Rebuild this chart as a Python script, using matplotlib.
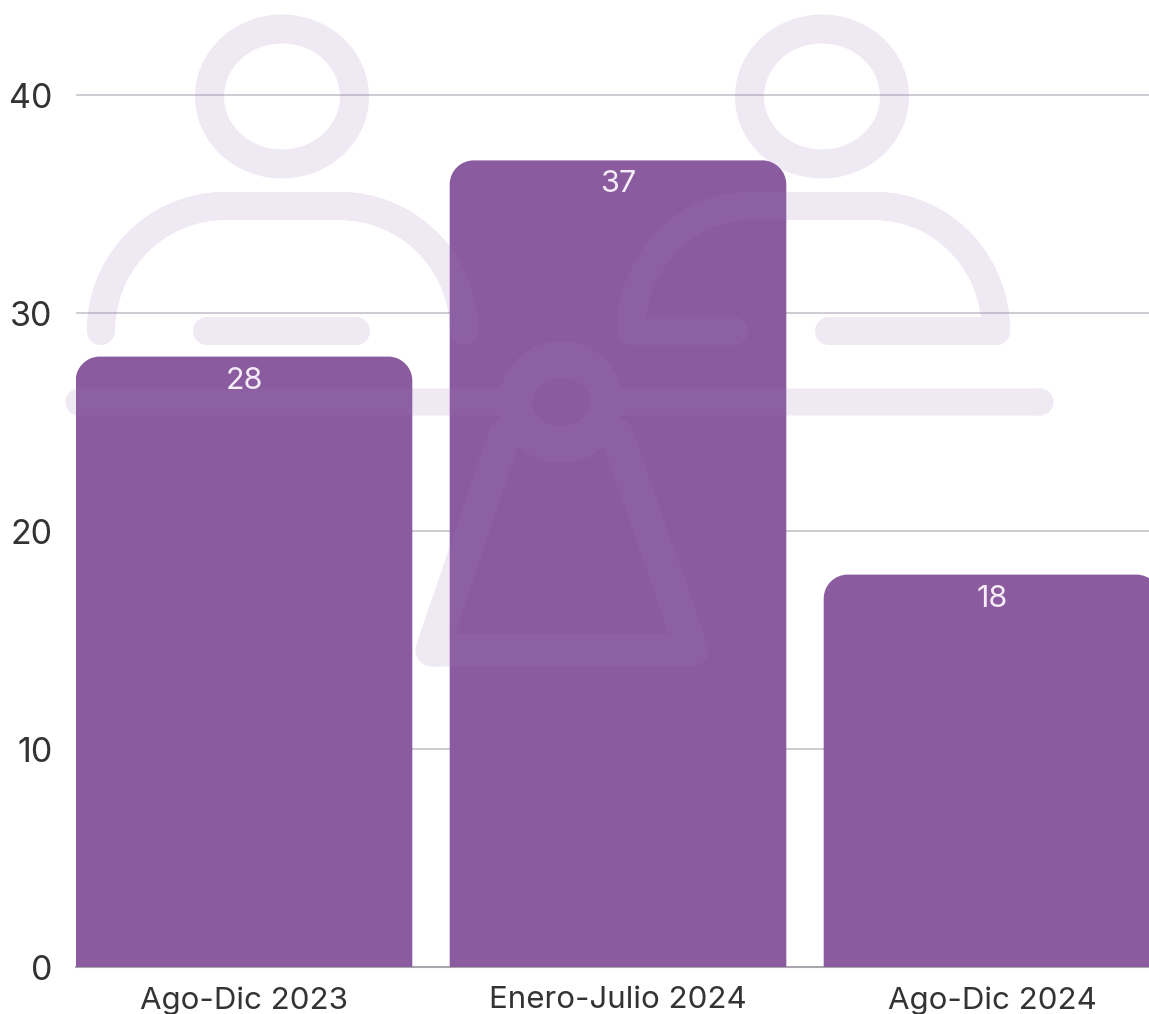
import numpy as np
import matplotlib
matplotlib.use("Agg")
import matplotlib.pyplot as plt
from matplotlib.path import Path
from matplotlib.patches import PathPatch
from matplotlib.transforms import Affine2D

categories = ["Ago-Dic 2023", "Enero-Julio 2024", "Ago-Dic 2024"]
values = [28, 37, 18]
y_ticks = [0, 10, 20, 30, 40]

W, H, DPI = 1149, 1014, 100
BAR = "#8A5B9E"
FONT = ["Inter", "DejaVu Sans"]
plt.rcParams["font.family"] = FONT

fig = plt.figure(figsize=(W / DPI, H / DPI), dpi=DPI, facecolor="white")
ax = fig.add_axes([76 / W, (H - 967) / H, (W - 76) / W, 967 / H])
px_y = 21.8
px_x = 374.0
ax.set_xlim(-168 / px_x, (W - 244) / px_x)
ax.set_ylim(0, 967 / px_y)

ax.set_yticks(y_ticks)
ax.set_xticks(range(len(categories)), categories)
ax.tick_params(length=0, colors="#333333")
ax.tick_params(axis="x", pad=14, labelsize=22.5)
ax.tick_params(axis="y", pad=17, labelsize=24.5)
for s in ax.spines.values():
    s.set_visible(False)
ax.spines["bottom"].set_visible(True)
ax.spines["bottom"].set_color("#A9A6AD")
ax.spines["bottom"].set_linewidth(1.5)
ax.spines["bottom"].set_zorder(1)
ax.grid(axis="y", color="#C6C2CC", lw=1.2)
ax.set_axisbelow(True)


def rounded_bar(x, v, width=0.9, r_px=24):
    rx, ry = r_px / px_x, r_px / px_y
    k = 0.5523
    l, t = x - width / 2, x + width / 2
    verts = [(l, -0.05), (l, v - ry),
             (l, v - ry + k * ry), (l + rx - k * rx, v), (l + rx, v),
             (t - rx, v),
             (t - rx + k * rx, v), (t, v - ry + k * ry), (t, v - ry),
             (t, -0.05), (l, -0.05)]
    codes = [Path.MOVETO, Path.LINETO,
             Path.CURVE4, Path.CURVE4, Path.CURVE4,
             Path.LINETO,
             Path.CURVE4, Path.CURVE4, Path.CURVE4,
             Path.LINETO, Path.CLOSEPOLY]
    return Path(verts, codes)


for i, v in enumerate(values):
    ax.add_patch(PathPatch(rounded_bar(i, v), fc=BAR, ec="none", zorder=2))
    ax.annotate(str(v), (i, v), xytext=(0, -24 * 72 / DPI), textcoords="offset points",
                ha="center", va="center", color="#F6EDF8", fontsize=22, zorder=4)


# --- decorative watermark, in reference pixel coordinates ---
def ellipse(cx, cy, rx, ry, reverse=False, n=72):
    a = np.linspace(0, 2 * np.pi, n)
    if reverse:
        a = a[::-1]
    return np.c_[cx + rx * np.cos(a), cy + ry * np.sin(a)]


def stroke(points, w):
    pts = np.asarray(points, float)
    out = []
    for p, q in zip(pts[:-1], pts[1:]):
        d = q - p
        L = np.hypot(*d)
        if L == 0:
            continue
        nrm = np.array([-d[1], d[0]]) / L * w / 2
        out.append(np.array([p + nrm, p - nrm, q - nrm, q + nrm, p + nrm]))
    for p in pts:
        out.append(ellipse(p[0], p[1], w / 2, w / 2))
    return out


def ring(cx, cy, rx, ry, irx, iry):
    return [ellipse(cx, cy, rx, ry), ellipse(cx, cy, irx, iry, True)]


def arms(xl, xtl, xtr, xr, ytop=206, yend=331):
    a1 = np.linspace(np.pi, 1.5 * np.pi, 30)
    left = np.c_[xtl + (xtl - xl) * np.cos(a1), yend + (yend - ytop) * np.sin(a1)]
    a2 = np.linspace(1.5 * np.pi, 2 * np.pi, 30)
    right = np.c_[xtr + (xr - xtr) * np.cos(a2), yend + (yend - ytop) * np.sin(a2)]
    return np.vstack([left, right])


polys = []
# person 1
polys += ring(282, 96.5, 87, 82, 58, 53)
polys += stroke(arms(101, 225, 340, 464), 28)
polys += stroke([(207, 331), (356, 331)], 28)
# person 2
polys += ring(822, 96.5, 87, 82, 58, 53)
polys += stroke(arms(631, 750, 875, 996), 28)
polys += stroke([(631, 331), (734, 331)], 28)
polys += stroke([(829, 331), (996, 331)], 28)
# long line, broken by the central ring
polys += stroke([(79, 402), (505, 402)], 27)
polys += stroke([(617, 402), (1040, 402)], 27)
# central figure
polys += ring(561, 402, 62, 61, 29, 24)
polys += stroke([(505, 435), (432, 650), (692, 650), (617, 435)], 33)

verts, codes = [], []
for p in polys:
    verts.append(p)
    codes += [Path.MOVETO] + [Path.LINETO] * (len(p) - 2) + [Path.CLOSEPOLY]
mark = Path(np.vstack(verts), codes)
to_px = Affine2D().scale(1, -1).translate(0, H)
ax.add_patch(PathPatch(mark, fc="#A17DBE", ec="none", alpha=0.17,
                       transform=to_px, clip_on=False, zorder=3))

fig.savefig("out.png", dpi=DPI)
